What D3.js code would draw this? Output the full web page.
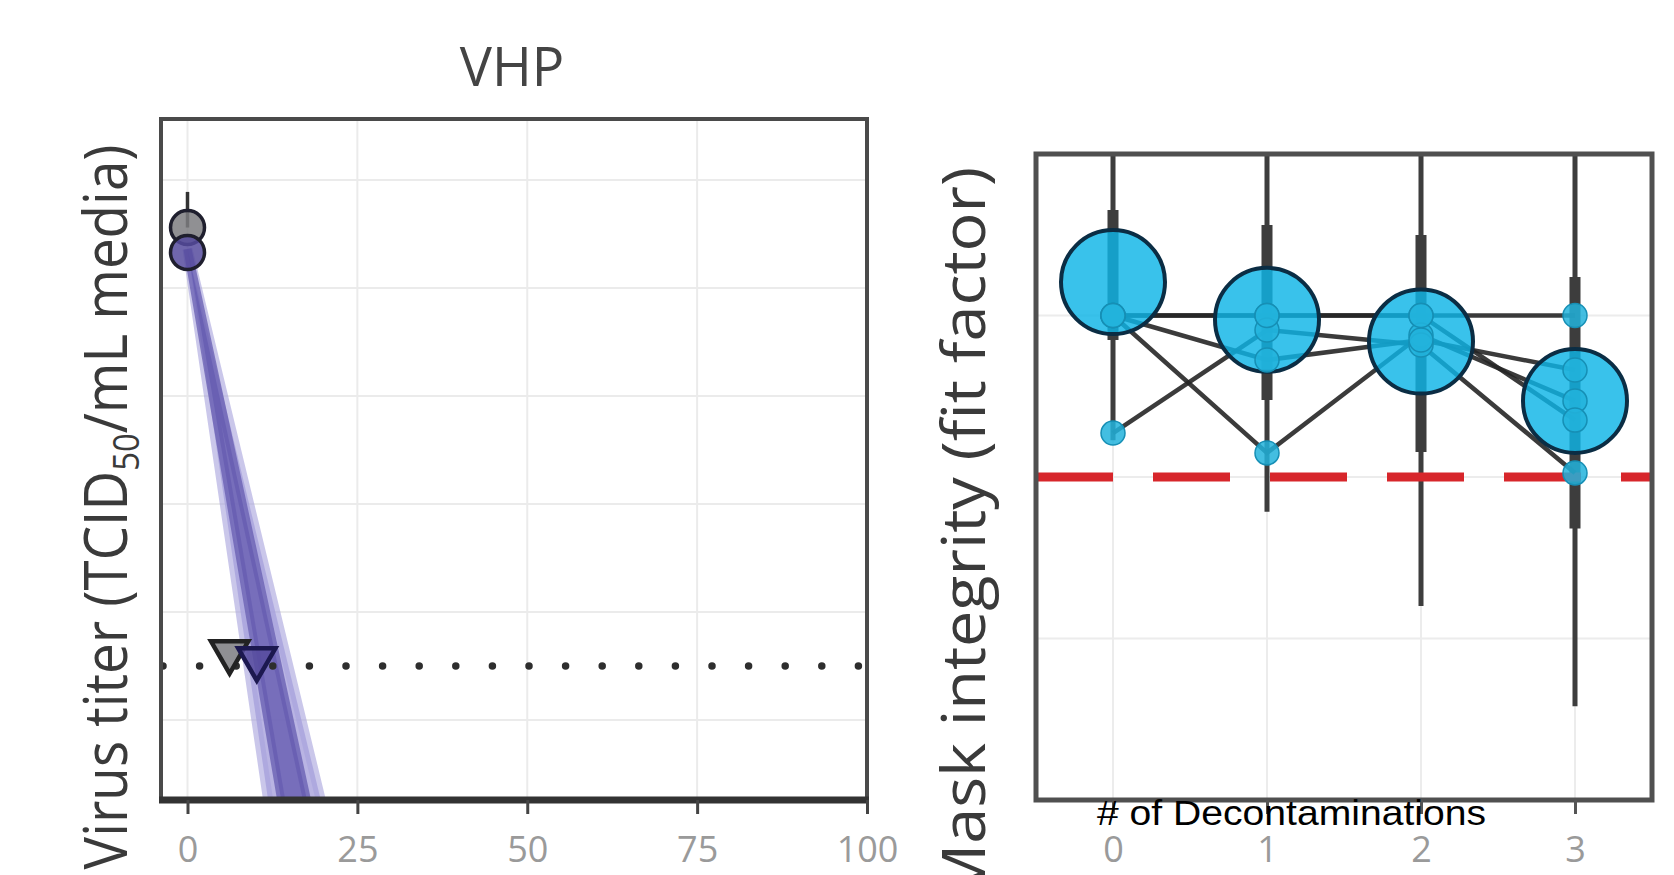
<!DOCTYPE html>
<html>
<head>
<meta charset="utf-8">
<script src="https://cdn.jsdelivr.net/npm/d3@7"></script>
<style>
  html, body { margin: 0; padding: 0; background: #fff; }
  svg { display: block; }
</style>
</head>
<body>
<div id="chart"></div>
<script>
// ---- left panel: VHP decay ----
const xTicksL = [0, 25, 50, 75, 100];
const yGridL = [0, 1, 2, 3, 4, 5];
const lodL = 0.5;
// observed titers (log10) at time 0
const obsL = [
  { t: 0, y: 4.56, kind: 'grey', errHi: 4.89 },
  { t: 0, y: 4.33, kind: 'purple', errHi: null }
];
// below-detection observations (triangles)
const censL = [
  { t: 6.2, y: 0.63, kind: 'grey' },
  { t: 10.2, y: 0.565, kind: 'purple' }
];
// fitted decay: intercept and slope intervals (log10 per min)
const fitIntercept = 4.36;
const slopeOuter = [0.26, 0.43];
const slopeInner = [0.29, 0.37];

// ---- right panel: mask integrity ----
const xTicksR = [0, 1, 2, 3];
const yGridR = [10, 100, 1000];
const passLine = 100;
const estR = [1610, 940, 690, 296];
const innerR = [[705, 4500], [300, 3630], [143, 3150], [48, 1730]];
const outerR = [[169, 20000], [61, 20000], [15.9, 20000], [3.8, 20000]];
const masks = [
  [1000, 1000, 1000, 1000],
  [1000, 141, 757, 296],
  [187, 813, 657, 106],
  [1000, 530, 705, 460],
  [1000, 1000, 1000, 225]
];

const W = 1674, H = 875;
const svg = d3.select('#chart').append('svg').attr('width', W).attr('height', H);
const font = "'Open Sans', sans-serif";

// ===== left panel =====
const L = { x0: 161, x1: 867, y0: 119, y1: 800 };
const xL = d3.scaleLinear().domain([-3.9, 100]).range([L.x0, L.x1]);
const yL = d3.scaleLinear().domain([-0.74, 5.565]).range([L.y1, L.y0]);

const defs = svg.append('defs');
defs.append('clipPath').attr('id', 'clipL')
  .append('rect').attr('x', L.x0).attr('y', L.y0).attr('width', L.x1 - L.x0).attr('height', L.y1 - L.y0);

const gL = svg.append('g');
gL.append('g').selectAll('line').data(yGridL).enter().append('line')
  .attr('x1', L.x0).attr('x2', L.x1)
  .attr('y1', (d) => yL(d)).attr('y2', (d) => yL(d))
  .attr('stroke', '#ebebeb').attr('stroke-width', 2);
gL.append('g').selectAll('line').data(xTicksL.slice(0, 4)).enter().append('line')
  .attr('x1', (d) => xL(d)).attr('x2', (d) => xL(d))
  .attr('y1', L.y0).attr('y2', L.y1)
  .attr('stroke', '#ebebeb').attr('stroke-width', 2);

// decay band
const tRange = [0, 30];
const band = (s) => d3.area()
  .x((t) => xL(t))
  .y0((t) => yL(fitIntercept - s[1] * t))
  .y1((t) => yL(fitIntercept - s[0] * t));
const bandG = gL.append('g').attr('clip-path', 'url(#clipL)');
bandG.append('path').attr('d', band(slopeOuter)(tRange))
  .attr('fill', '#a7a1dc').attr('fill-opacity', 0.8)
  .attr('stroke', '#a7a1dc').attr('stroke-opacity', 0.6).attr('stroke-width', 10);
bandG.append('path').attr('d', band(slopeInner)(tRange))
  .attr('fill', '#665cb0').attr('fill-opacity', 0.8)
  .attr('stroke', '#665cb0').attr('stroke-opacity', 0.75).attr('stroke-width', 8);

// LOD dotted line
gL.append('line')
  .attr('x1', L.x0 + 2).attr('x2', L.x1 - 4)
  .attr('y1', yL(lodL)).attr('y2', yL(lodL))
  .attr('stroke', '#2e2e2e').attr('stroke-width', 7.5)
  .attr('stroke-linecap', 'round').attr('stroke-dasharray', '0 36.6');

// error bar + points
obsL.filter((d) => d.errHi != null).forEach((d) => {
  gL.append('line').attr('x1', xL(d.t)).attr('x2', xL(d.t))
    .attr('y1', yL(d.y)).attr('y2', yL(d.errHi))
    .attr('stroke', '#333').attr('stroke-width', 3.5);
});
const fillL = { grey: '#7d7d80', purple: '#564b9e' };
gL.append('g').selectAll('circle').data(obsL).enter().append('circle')
  .attr('cx', (d) => xL(d.t)).attr('cy', (d) => yL(d.y)).attr('r', 17)
  .attr('fill', (d) => fillL[d.kind]).attr('fill-opacity', 0.85)
  .attr('stroke', '#1f1f2e').attr('stroke-width', 3.5);
gL.append('g').selectAll('path').data(censL).enter().append('path')
  .attr('d', d3.symbol().type(d3.symbolTriangle).size(600))
  .attr('transform', (d) => `translate(${xL(d.t)},${yL(d.y)}) rotate(180)`)
  .attr('fill', (d) => fillL[d.kind]).attr('fill-opacity', 0.85)
  .attr('stroke', (d) => (d.kind === 'grey' ? '#222' : '#1c1850')).attr('stroke-width', 4.5);

// frame
gL.append('rect').attr('x', L.x0).attr('y', L.y0)
  .attr('width', L.x1 - L.x0).attr('height', L.y1 - L.y0)
  .attr('fill', 'none').attr('stroke', '#4a4a4a').attr('stroke-width', 4);
gL.append('line').attr('x1', L.x0 - 2).attr('x2', L.x1 + 2)
  .attr('y1', L.y1).attr('y2', L.y1)
  .attr('stroke', '#333').attr('stroke-width', 7);

// x axis ticks
const axL = gL.append('g').attr('transform', `translate(0,${L.y1})`)
  .call(d3.axisBottom(xL).tickValues(xTicksL).tickSize(14).tickPadding(22));
axL.select('.domain').remove();
axL.selectAll('line').attr('stroke', '#444').attr('stroke-width', 3);
axL.selectAll('text').attr('font-family', font).attr('font-size', 36).attr('fill', '#9a9a9a');

svg.append('text').attr('x', 512).attr('y', 86)
  .attr('text-anchor', 'middle').attr('font-family', font).attr('font-size', 54)
  .attr('fill', '#444').text('VHP');

// left y label
const yLabL = svg.append('text')
  .attr('transform', 'translate(127,507) rotate(-90)')
  .attr('text-anchor', 'middle').attr('font-family', font).attr('font-size', 60)
  .attr('fill', '#3a3a3a');
yLabL.append('tspan').text('Virus titer (TCID');
yLabL.append('tspan').attr('font-size', 36).attr('dy', 12).text('50');
yLabL.append('tspan').attr('dy', -12).text('/mL media)');
yLabL.attr('textLength', 725).attr('lengthAdjust', 'spacingAndGlyphs');

// ===== right panel =====
const R = { x0: 1036, x1: 1652, y0: 154, y1: 800 };
const xR = d3.scaleLinear().domain([-0.5, 3.5]).range([R.x0, R.x1]);
const yR = d3.scaleLog().domain([1, 10000]).range([R.y1, R.y0]);

defs.append('clipPath').attr('id', 'clipR')
  .append('rect').attr('x', R.x0).attr('y', R.y0).attr('width', R.x1 - R.x0).attr('height', R.y1 - R.y0);

const gR = svg.append('g');
gR.append('g').selectAll('line').data(yGridR).enter().append('line')
  .attr('x1', R.x0).attr('x2', R.x1)
  .attr('y1', (d) => yR(d)).attr('y2', (d) => yR(d))
  .attr('stroke', '#ececec').attr('stroke-width', 2);
gR.append('g').selectAll('line').data(xTicksR).enter().append('line')
  .attr('x1', (d) => xR(d)).attr('x2', (d) => xR(d))
  .attr('y1', R.y0).attr('y2', R.y1)
  .attr('stroke', '#ececec').attr('stroke-width', 2);

const plotR = gR.append('g').attr('clip-path', 'url(#clipR)');

// intervals
plotR.append('g').selectAll('line').data(outerR).enter().append('line')
  .attr('x1', (d, i) => xR(i)).attr('x2', (d, i) => xR(i))
  .attr('y1', (d) => yR(d[0])).attr('y2', (d) => yR(d[1]))
  .attr('stroke', '#3d3d3d').attr('stroke-width', 5);
plotR.append('g').selectAll('line').data(innerR).enter().append('line')
  .attr('x1', (d, i) => xR(i)).attr('x2', (d, i) => xR(i))
  .attr('y1', (d) => yR(d[0])).attr('y2', (d) => yR(d[1]))
  .attr('stroke', '#3d3d3d').attr('stroke-width', 11);

// pass threshold
plotR.append('line')
  .attr('x1', R.x0).attr('x2', R.x1)
  .attr('y1', yR(passLine)).attr('y2', yR(passLine))
  .attr('stroke', '#d7262b').attr('stroke-width', 9)
  .attr('stroke-dasharray', '77 40');

// per-mask lines
const maskLine = d3.line().x((d, i) => xR(i)).y((d) => yR(d));
plotR.append('g').selectAll('path').data(masks).enter().append('path')
  .attr('d', maskLine)
  .attr('fill', 'none').attr('stroke', '#262626').attr('stroke-width', 4.5)
  .attr('stroke-opacity', 0.9);

// estimates
plotR.append('g').selectAll('circle').data(estR).enter().append('circle')
  .attr('cx', (d, i) => xR(i)).attr('cy', (d) => yR(d)).attr('r', 52)
  .attr('fill', '#0db4e6').attr('fill-opacity', 0.82)
  .attr('stroke', '#0b2d44').attr('stroke-width', 4);

// individual masks
const pts = masks.flatMap((m) => m.map((v, i) => ({ i, v })));
plotR.append('g').selectAll('circle').data(pts).enter().append('circle')
  .attr('cx', (d) => xR(d.i)).attr('cy', (d) => yR(d.v)).attr('r', 12)
  .attr('fill', '#22b3dc').attr('fill-opacity', 0.85)
  .attr('stroke', '#168fb5').attr('stroke-width', 1.5);

gR.append('rect').attr('x', R.x0).attr('y', R.y0)
  .attr('width', R.x1 - R.x0).attr('height', R.y1 - R.y0)
  .attr('fill', 'none').attr('stroke', '#505050').attr('stroke-width', 5);

const axR = gR.append('g').attr('transform', `translate(0,${R.y1})`)
  .call(d3.axisBottom(xR).tickValues(xTicksR).tickFormat(d3.format('d')).tickSize(14).tickPadding(22));
axR.select('.domain').remove();
axR.selectAll('line').attr('stroke', '#555').attr('stroke-width', 3);
axR.selectAll('text').attr('font-family', font).attr('font-size', 36).attr('fill', '#9a9a9a');

svg.append('text')
  .attr('transform', 'translate(985,167) rotate(-90)')
  .attr('text-anchor', 'end').attr('font-family', font).attr('font-size', 60)
  .attr('textLength', 735).attr('lengthAdjust', 'spacingAndGlyphs')
  .attr('fill', '#3a3a3a').text('Mask integrity (fit factor)');

svg.append('text').attr('x', 1097).attr('y', 825)
  .attr('font-family', "'Liberation Sans', sans-serif").attr('font-size', 35)
  .attr('textLength', 389).attr('lengthAdjust', 'spacingAndGlyphs')
  .attr('fill', '#000').text('# of Decontaminations');
</script>
</body>
</html>
